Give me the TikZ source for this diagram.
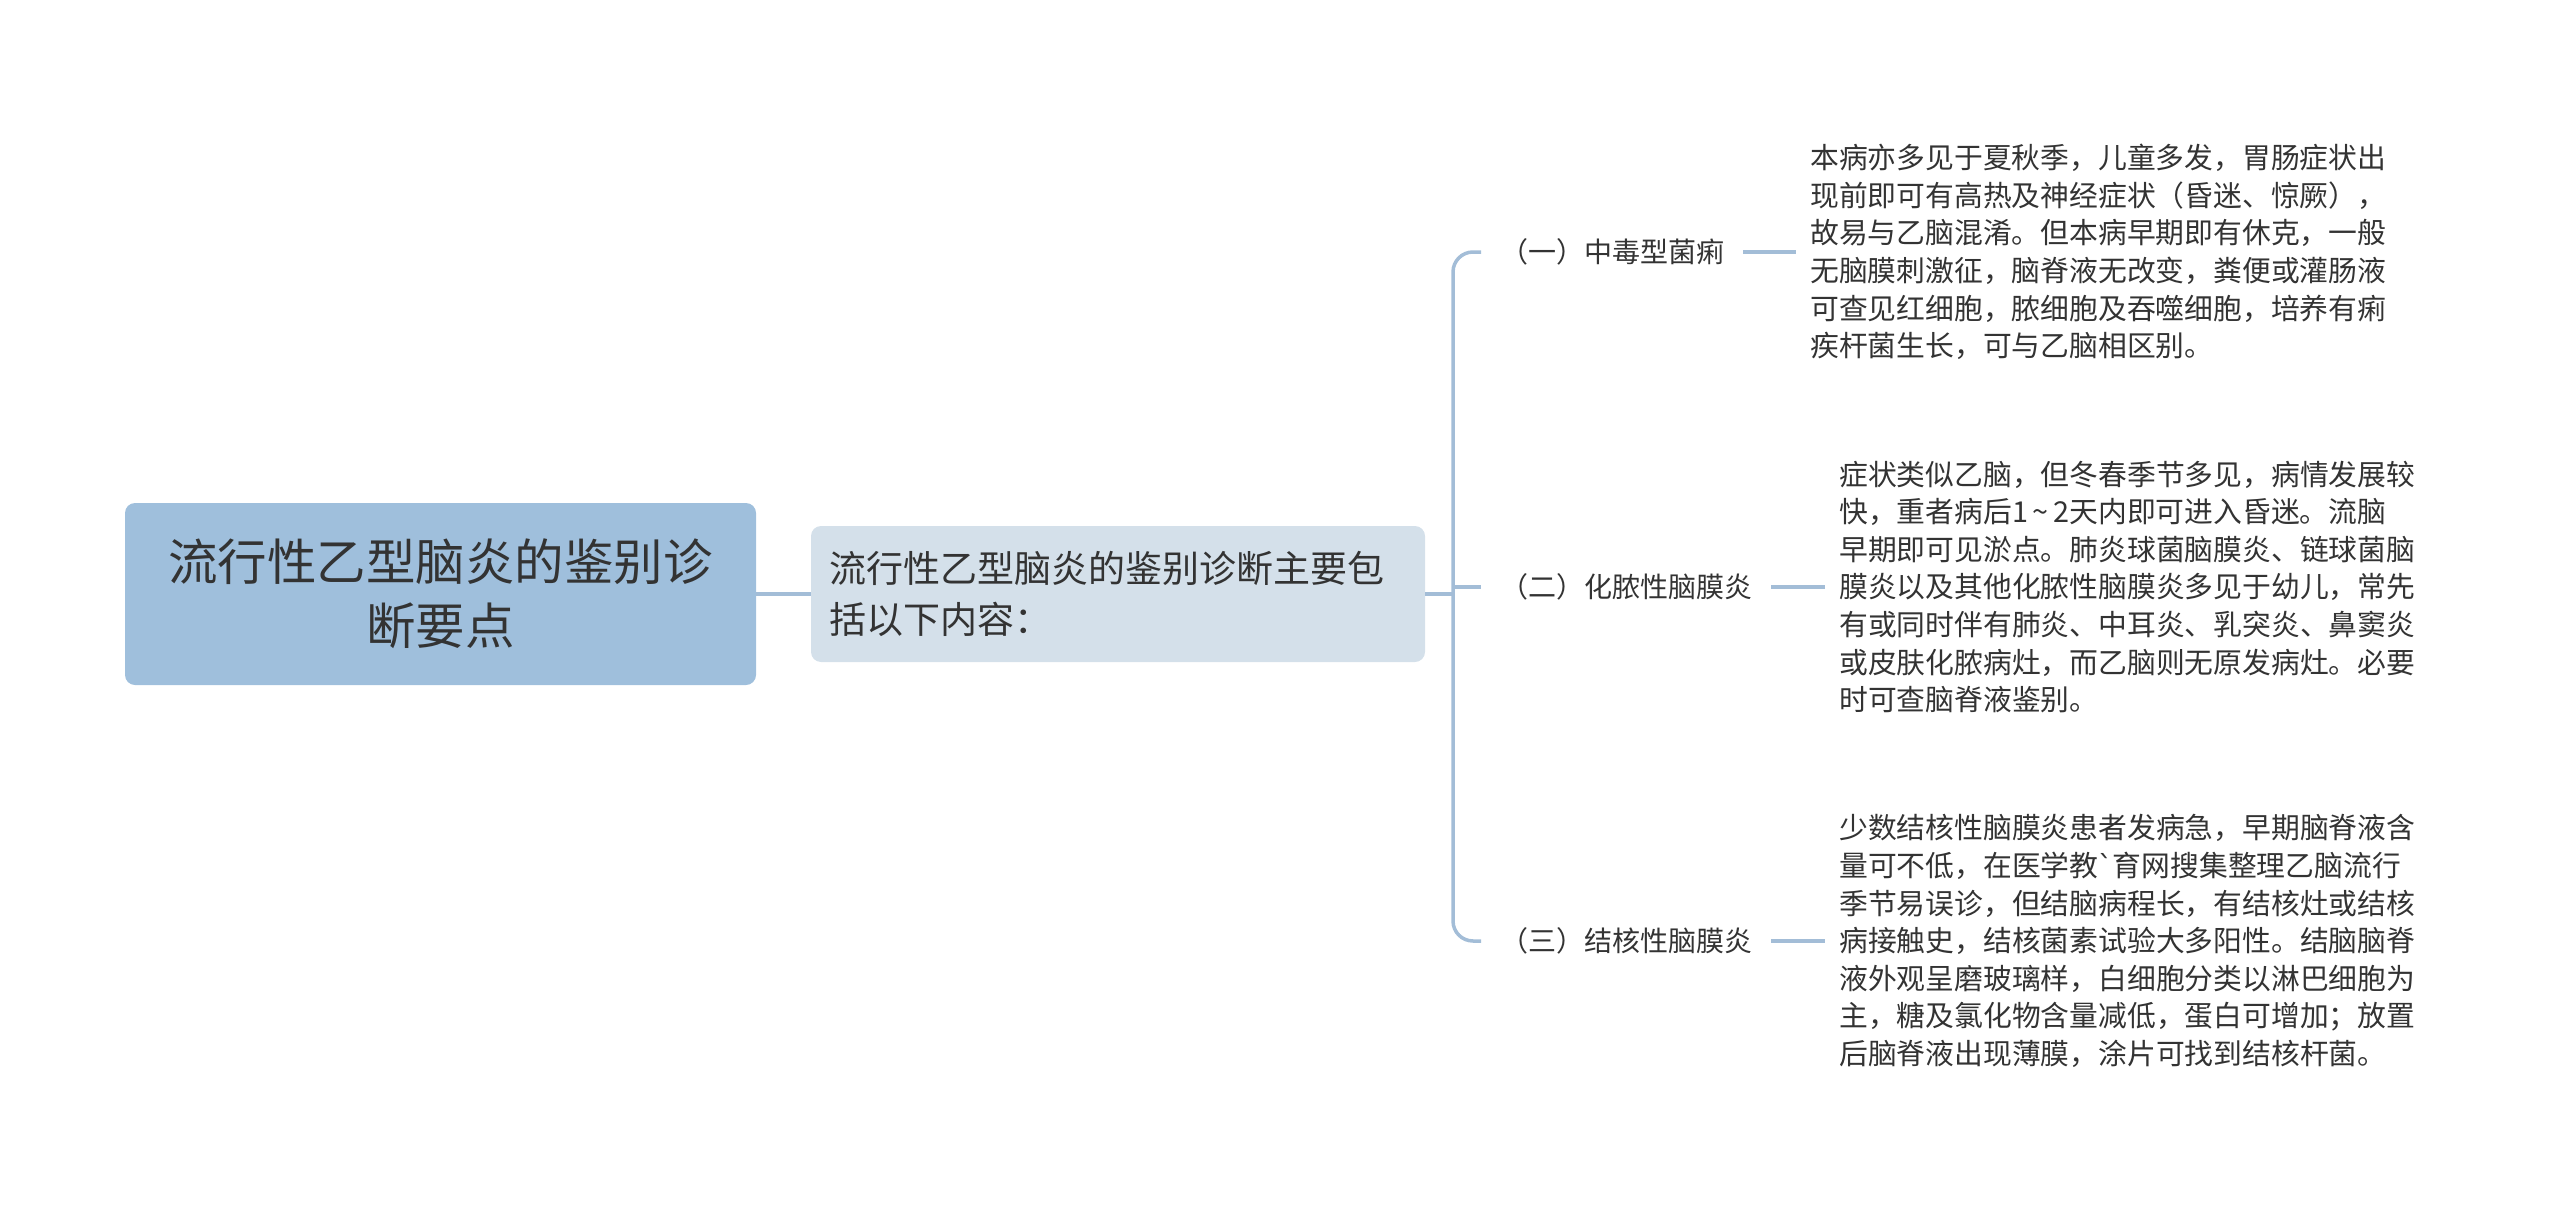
\documentclass[tikz,border=0pt]{standalone}
\usepackage{fontspec}
\setmainfont{Noto Sans CJK SC}
\newfontfamily\gravefont{DejaVu Sans}
\definecolor{rootfill}{HTML}{9FBFDC}
\definecolor{subfill}{HTML}{D4E0EA}
\definecolor{linecol}{HTML}{A3BDD7}
\definecolor{txt}{HTML}{333333}
\tikzset{
  rootbox/.style={fill=rootfill, rounded corners=10pt, minimum width=631pt, minimum height=182pt, align=center, text=txt, inner sep=0pt, font=\fontsize{49.5}{64}\selectfont},
  subbox/.style={fill=subfill, rounded corners=10pt, text width=578pt, minimum height=136pt, inner xsep=18pt, inner ysep=0pt, align=left, text=txt, font=\fontsize{37}{51}\selectfont},
  lbl/.style={anchor=west, inner xsep=19pt, inner ysep=4pt, text=txt, font=\fontsize{28}{34}\selectfont},
  body/.style={anchor=west, inner xsep=14pt, inner ysep=0pt, align=left, text=txt, font=\fontsize{28.8}{37.6}\selectfont},
  conn/.style={draw=linecol, line width=3.5pt}
}
\begin{document}
\begin{tikzpicture}[x=1pt,y=-1pt]
\useasboundingbox (0,0) rectangle (2560,1207);
\node[rootbox] (root) at (440.5,594) {流行性乙型脑炎的鉴别诊\\断要点};
\node[subbox] (sub) at (1118,594) {流行性乙型脑炎的鉴别诊断主要包\\括以下内容：};
\coordinate (bx) at (1453,594);
\node[lbl] (l1) at (1481,252) {（一）中毒型菌痢};
\node[lbl] (l2) at (1481,587) {（二）化脓性脑膜炎};
\node[lbl] (l3) at (1481,941) {（三）结核性脑膜炎};
\node[body] (t1) at (1796,252) {本病亦多见于夏秋季，儿童多发，胃肠症状出\\现前即可有高热及神经症状（昏迷、惊厥），\\故易与乙脑混淆。但本病早期即有休克，一般\\无脑膜刺激征，脑脊液无改变，粪便或灌肠液\\可查见红细胞，脓细胞及吞噬细胞，培养有痢\\疾杆菌生长，可与乙脑相区别。};
\node[body] (t2) at (1825,587) {症状类似乙脑，但冬春季节多见，病情发展较\\快，重者病后1\,\textasciitilde\,2天内即可进入昏迷。流脑\\早期即可见淤点。肺炎球菌脑膜炎、链球菌脑\\膜炎以及其他化脓性脑膜炎多见于幼儿，常先\\有或同时伴有肺炎、中耳炎、乳突炎、鼻窦炎\\或皮肤化脓病灶，而乙脑则无原发病灶。必要\\时可查脑脊液鉴别。};
\node[body] (t3) at (1825,941) {少数结核性脑膜炎患者发病急，早期脑脊液含\\量可不低，在医学教{\gravefont\symbol{96}}育网搜集整理乙脑流行\\季节易误诊，但结脑病程长，有结核灶或结核\\病接触史，结核菌素试验大多阳性。结脑脑脊\\液外观呈磨玻璃样，白细胞分类以淋巴细胞为\\主，糖及氯化物含量减低，蛋白可增加；放置\\后脑脊液出现薄膜，涂片可找到结核杆菌。};
\draw[conn, line width=4pt] (root.east) -- (sub.west);
\draw[conn] (sub.east) -- (bx);
\draw[conn, rounded corners=20pt] (l1.west) -- (bx |- l1.west) -- (bx |- l3.west) -- (l3.west);
\draw[conn] (bx |- l2.west) -- (l2.west);
\draw[conn] (l1.east) -- (t1.west);
\draw[conn] (l2.east) -- (t2.west);
\draw[conn] (l3.east) -- (t3.west);
\end{tikzpicture}
\end{document}
